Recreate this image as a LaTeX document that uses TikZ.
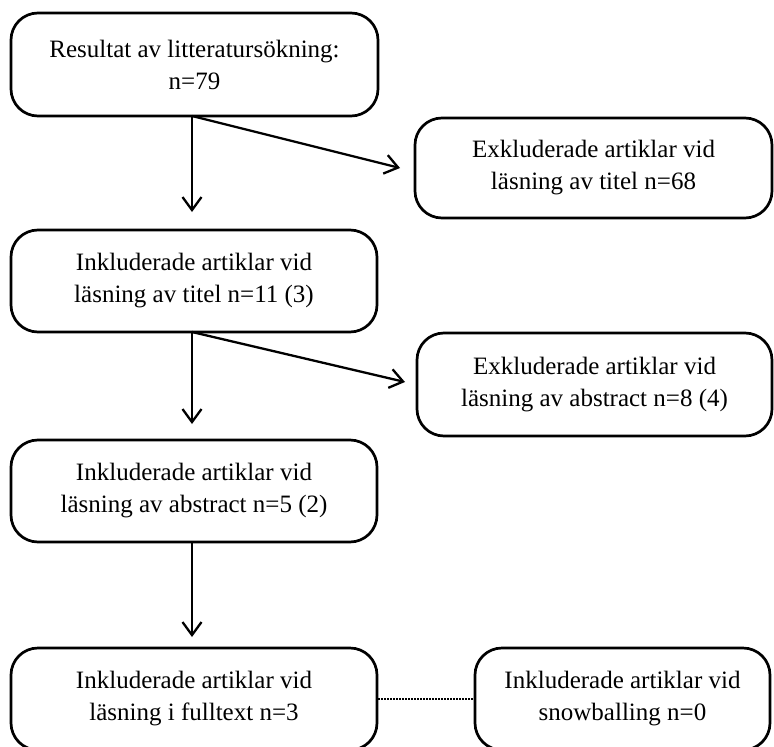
\documentclass[tikz,border=0pt]{standalone}
\usepackage{fontspec}
\setmainfont{Liberation Serif}
\usetikzlibrary{arrows.meta}
\begin{document}
\begin{tikzpicture}[x=1pt,y=-1pt,
  box/.style={draw, line width=2.7pt, rounded corners=27pt, align=center,
    font=\fontsize{25}{32}\selectfont, inner sep=0pt},
  arr/.style={line width=2.3pt, -{Straight Barb[length=13pt,width=19pt,line width=2.3pt]}},
  link/.style={line width=2pt, dash pattern=on 1.4pt off 1.6pt}]
\useasboundingbox (0,0) rectangle (774,747);
\node[box, minimum width=367pt, minimum height=103pt] (r) at (194.5,64.5) {Resultat av litteratursökning:\\n=79};
\node[box, minimum width=357pt, minimum height=100pt] (ex1) at (593.5,168) {Exkluderade artiklar vid\\läsning av titel n=68};
\node[box, minimum width=366pt, minimum height=102pt] (in1) at (194,281) {Inkluderade artiklar vid\\läsning av titel n=11 (3)};
\node[box, minimum width=355pt, minimum height=103pt] (ex2) at (594.5,384.5) {Exkluderade artiklar vid\\läsning av abstract n=8 (4)};
\node[box, minimum width=366pt, minimum height=102pt] (in2) at (194,491) {Inkluderade artiklar vid\\läsning av abstract n=5 (2)};
\node[box, minimum width=366pt, minimum height=102pt] (in3) at (194,699) {Inkluderade artiklar vid\\läsning i fulltext n=3};
\node[box, minimum width=295pt, minimum height=102pt] (sb) at (622.5,699) {Inkluderade artiklar vid\\snowballing n=0};
\coordinate (s1) at (192,116);
\coordinate (e1) at (192,212);
\coordinate (d1) at (400,168);
\coordinate (s2) at (192,332);
\coordinate (e2) at (192,424);
\coordinate (d2) at (405,382);
\coordinate (s3) at (192,542);
\coordinate (e3) at (192,637);
\draw[arr] (s1) -- (e1);
\draw[arr] (s1) -- (d1);
\draw[arr] (s2) -- (e2);
\draw[arr] (s2) -- (d2);
\draw[arr] (s3) -- (e3);
\draw[link] (in3.east) -- (sb.west);
\end{tikzpicture}
\end{document}
